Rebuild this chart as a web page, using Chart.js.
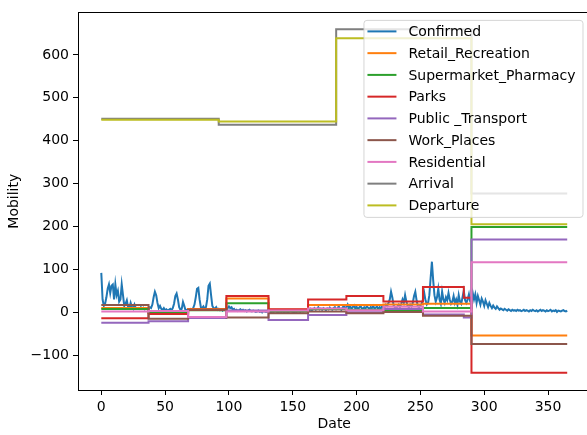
<!DOCTYPE html>
<html>
<head>
<meta charset="utf-8">
<script src="https://cdn.jsdelivr.net/npm/chart.js@4.4.1/dist/chart.umd.min.js"></script>
<style>
  html, body { margin: 0; padding: 0; background: #fff; overflow: hidden; }
  #wrap { width: 600px; height: 435px; }
</style>
</head>
<body>
<div id="wrap"><canvas id="mobilityChart" width="600" height="435"></canvas></div>
<script>
// daily confirmed cases, day 0..365
var confirmed = [
  92, 30, 15, 20, 35, 55, 65, 45, 62, 65, 30, 65, 40, 50, 25, 30, 65, 40, 15, 20,   // 0
  28, 12, 10, 22, 12, 8, 18, 10, 8, 10, 8, 12, 9, 11, 7, 10, 8, 9, 12, 10,          // 20
  18, 35, 48, 40, 22, 10, 15, 8, 6, 10, 5, 7, 4, 6, 8, 5, 10, 20, 38, 44,           // 40
  30, 12, 6, 8, 24, 15, 5, 6, 4, 7, 8, 6, 10, 18, 35, 55, 57, 30, 12, 10,           // 60
  14, 8, 12, 30, 62, 67, 40, 15, 10, 8, 12, 6, 8, 5, 7, 4, 6, 5, 7, 10,             // 80
  14, 10, 12, 6, 8, 4, 6, 3, 5, 7, 4, 6, 3, 5, 2, 4, 6, 3, 2, 4,                    // 100
  3, 1, 2, 4, 1, 2, 0, 3, 2, 1, 2, 3, 1, 0, 2, 1, 3, 2, 0, 1,                       // 120
  2, 1, 3, 0, 1, 2, 0, 1, 3, 2, 1, 0, 2, 1, 3, 2, 1, 4, 2, 3,                       // 140
  5, 3, 6, 4, 8, 5, 7, 10, 6, 8, 12, 7, 9, 6, 10, 8, 5, 9, 7, 11,                   // 160
  8, 6, 10, 12, 7, 9, 14, 8, 6, 11, 15, 9, 12, 18, 10, 14, 8, 12, 16, 9,            // 180
  13, 7, 11, 15, 10, 8, 12, 9, 14, 11, 8, 12, 10, 15, 9, 11, 13, 8, 12, 10,         // 200
  14, 9, 12, 18, 15, 22, 30, 48, 35, 16, 12, 10, 14, 18, 12, 20, 30, 22, 40, 25,    // 220
  15, 12, 18, 14, 22, 38, 48, 28, 14, 12, 16, 20, 30, 45, 28, 18, 22, 40, 80, 118,  // 240
  75, 40, 25, 35, 55, 30, 20, 48, 30, 22, 35, 28, 45, 30, 20, 25, 38, 22, 30, 18,   // 260
  40, 25, 20, 35, 50, 28, 22, 30, 42, 25, 25, 45, 30, 42, 22, 38, 28, 18, 32, 25,   // 280
  15, 28, 20, 12, 22, 15, 10, 16, 11, 8, 14, 10, 6, 9, 7, 5, 8, 6, 4, 7,            // 300
  5, 3, 6, 4, 5, 3, 6, 4, 5, 3, 4, 6, 3, 5, 4, 2, 5, 3, 6, 4,                       // 320
  3, 5, 2, 4, 6, 3, 5, 4, 2, 5, 3, 4, 6, 2, 4, 3, 5, 1, 4, 3,                       // 340
  2, 4, 5, 3, 2, 4                                                                  // 360
];

// mobility series are flat between these days
var stepDays    = [0, 37, 68, 98, 131, 162, 192, 221, 252, 284, 290, 365];
var retail      = [10, -2, 8, 32, 6, 17, 17, 18, 20, 20, -54, -54];
var supermarket = [8, 0, 5, 21, 2, 8, 6, 4, 10, 10, 199, 199];
var parks       = [-14, -4, 6, 38, 7, 30, 38, 25, 59, 34, -141, -141];
var transport   = [-24, -21, -13, 4, -18, -6, 0, 8, -5, -12, 170, 170];
var workPlaces  = [17, -15, 6, -12, -2, 2, -2, 1, -8, -8, -74, -74];
var residential = [2, 3, -11, 2, 4, 9, 5, 13, 2, 2, 117, 117];

var travelDays = [0, 92, 184, 290, 365];
var arrival    = [451, 437, 660, 277, 277];
var departure  = [449, 445, 639, 205, 205];

var seriesNames = ['Confirmed', 'Retail_Recreation', 'Supermarket_Pharmacy', 'Parks',
  'Public _Transport', 'Work_Places', 'Residential', 'Arrival', 'Departure'];
var colors = ['#1f77b4', '#ff7f0e', '#2ca02c', '#d62728', '#9467bd', '#8c564b', '#e377c2', '#7f7f7f', '#bcbd22'];

var xTicks = [0, 50, 100, 150, 200, 250, 300, 350];
var yTicks = [-100, 0, 100, 200, 300, 400, 500, 600];

function toPoints(days, vals) {
  return vals.map(function (v, i) { return { x: days[i], y: v }; });
}

var seriesData = [
  confirmed.map(function (v, i) { return { x: i, y: v }; }),
  toPoints(stepDays, retail),
  toPoints(stepDays, supermarket),
  toPoints(stepDays, parks),
  toPoints(stepDays, transport),
  toPoints(stepDays, workPlaces),
  toPoints(stepDays, residential),
  toPoints(travelDays, arrival),
  toPoints(travelDays, departure)
];

var datasets = seriesData.map(function (pts, i) {
  return {
    label: seriesNames[i],
    data: pts,
    borderColor: colors[i],
    backgroundColor: colors[i],
    borderWidth: 2,
    pointRadius: 0,
    tension: 0,
    stepped: i === 0 ? false : 'before',
    order: seriesNames.length - i   // later series on top, like matplotlib
  };
});

// box around the axes
var frame = {
  id: 'frame',
  afterDatasetsDraw: function (chart) {
    var a = chart.chartArea, ctx = chart.ctx;
    ctx.save();
    ctx.strokeStyle = '#000';
    ctx.lineWidth = 1;
    ctx.strokeRect(Math.round(a.left) + 0.5, Math.round(a.top) + 0.5,
      Math.round(a.right - a.left), Math.round(a.bottom - a.top));
    ctx.restore();
  }
};

// matplotlib-like legend in the upper right
var legendBox = {
  id: 'legendBox',
  afterDraw: function (chart) {
    var a = chart.chartArea, ctx = chart.ctx;
    var rowH = 21.75;
    ctx.save();
    ctx.font = '14px "DejaVu Sans"';
    var textW = Math.max.apply(null, seriesNames.map(function (n) { return ctx.measureText(n).width; }));
    var w = textW + 52;
    var right = a.right - 8;
    var left = right - w;
    var top = a.top + 7.5;
    var h = rowH * (seriesNames.length - 1) + 23;
    ctx.beginPath();
    ctx.roundRect(left + 0.5, top + 0.5, w, h, 3);
    ctx.fillStyle = 'rgba(255,255,255,0.8)';
    ctx.fill();
    ctx.strokeStyle = 'rgba(204,204,204,0.8)';
    ctx.lineWidth = 1;
    ctx.stroke();
    ctx.textBaseline = 'middle';
    seriesNames.forEach(function (name, i) {
      var y = top + 11.5 + i * rowH;
      ctx.beginPath();
      ctx.moveTo(left + 4, y);
      ctx.lineTo(left + 33, y);
      ctx.strokeStyle = colors[i];
      ctx.lineWidth = 2;
      ctx.stroke();
      ctx.fillStyle = '#000';
      ctx.fillText(name, left + 45, y + 1);
    });
    ctx.restore();
  }
};

Chart.defaults.font.family = '"DejaVu Sans"';
Chart.defaults.font.size = 14;
Chart.defaults.color = '#000';

var ctx = document.getElementById('mobilityChart').getContext('2d');
var mobilityChart = new Chart(ctx, {
  type: 'line',
  data: { datasets: datasets },
  options: {
    responsive: false,
    animation: false,
    layout: { padding: { left: 0, right: 9.5, top: 7, bottom: 0 } },
    plugins: {
      legend: { display: false },
      tooltip: { enabled: false }
    },
    scales: {
      x: {
        type: 'linear',
        min: -18.25,
        max: 383.25,
        afterFit: function (s) { s.height = 45; },
        afterBuildTicks: function (s) { s.ticks = xTicks.map(function (v) { return { value: v }; }); },
        ticks: { padding: 4, maxRotation: 0, autoSkip: false },
        grid: { drawOnChartArea: false, drawTicks: true, tickLength: 5, color: '#000', tickColor: '#000' },
        border: { display: false },
        title: { display: true, text: 'Date', padding: { top: 0, bottom: 2 } }
      },
      y: {
        type: 'linear',
        min: -181,
        max: 699,
        afterFit: function (s) { s.width = 78; },
        afterBuildTicks: function (s) { s.ticks = yTicks.map(function (v) { return { value: v }; }); },
        ticks: {
          padding: 4,
          autoSkip: false,
          callback: function (v) { return v < 0 ? '\u2212' + Math.abs(v) : String(v); }
        },
        grid: { drawOnChartArea: false, drawTicks: true, tickLength: 5, color: '#000', tickColor: '#000' },
        border: { display: false },
        title: { display: true, text: 'Mobility', padding: { top: 6, bottom: 0 } }
      }
    }
  },
  plugins: [frame, legendBox]
});
</script>
</body>
</html>
